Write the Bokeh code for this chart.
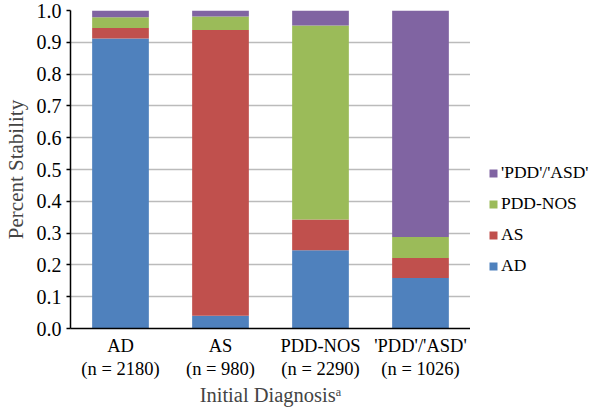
from bokeh.plotting import figure
from bokeh.models import (Legend, LegendItem, FixedTicker, ColumnDataSource,
                          NumeralTickFormatter, CategoricalAxis, FactorRange)
from bokeh.layouts import row
from bokeh.embed import file_html
from bokeh.resources import INLINE

categories = ["AD", "AS", "PDD-NOS", "'PDD'/'ASD'"]
n_counts = [2180, 980, 2290, 1026]
series_names = ["AD", "AS", "PDD-NOS", "'PDD'/'ASD'"]
ad_share = [0.912, 0.040, 0.246, 0.159]
as_share = [0.033, 0.899, 0.097, 0.063]
pddnos_share = [0.034, 0.042, 0.610, 0.066]
pddasd_share = [0.021, 0.019, 0.047, 0.712]
colors = ["#4F81BD", "#C0504D", "#9BBB59", "#8064A2"]
y_ticks = [0.0, 0.1, 0.2, 0.3, 0.4, 0.5, 0.6, 0.7, 0.8, 0.9, 1.0]

FONT = "Liberation Serif"

source = ColumnDataSource(dict(
    cat=categories,
    s0=ad_share, s1=as_share, s2=pddnos_share, s3=pddasd_share,
))

p = figure(x_range=FactorRange(factors=categories), y_range=(0, 1.0),
           width=470, height=408,
           output_backend="svg", toolbar_location=None,
           min_border_left=70, min_border_right=0, min_border_top=10,
           min_border_bottom=75, outline_line_color=None)

renderers = p.vbar_stack(["s0", "s1", "s2", "s3"], x="cat", width=0.567,
                         color=colors, source=source, line_color=None)

# grid
p.xgrid.grid_line_color = None
p.ygrid.ticker = FixedTicker(ticks=y_ticks)
p.ygrid.grid_line_color = "#BBBBBB"
p.ygrid.grid_line_width = 1.5

# y axis
p.yaxis.ticker = FixedTicker(ticks=y_ticks)
p.yaxis.formatter = NumeralTickFormatter(format="0.0")
p.yaxis.axis_label = "Percent Stability"
p.yaxis.axis_label_text_font = FONT
p.yaxis.axis_label_text_font_size = "21px"
p.yaxis.axis_label_text_font_style = "normal"
p.yaxis.axis_label_standoff = 6
p.yaxis.major_label_text_font = FONT
p.yaxis.major_label_text_font_size = "20px"
p.yaxis.major_label_text_color = "black"
p.yaxis.major_tick_out = 4
p.yaxis.major_tick_in = 0
p.yaxis.minor_tick_out = 0
p.yaxis.minor_tick_in = 0
p.yaxis.major_label_standoff = 5
p.yaxis.axis_line_color = "black"
p.yaxis.axis_line_width = 1.5
p.yaxis.major_tick_line_color = "black"
p.yaxis.major_tick_line_width = 1.5

# x axis: first line (category)
p.xaxis.major_label_text_font = FONT
p.xaxis.major_label_text_font_size = "18.5px"
p.xaxis.major_label_text_color = "black"
p.xaxis.major_tick_out = 0
p.xaxis.major_tick_in = 0
p.xaxis.major_label_standoff = 7
p.xaxis.axis_line_color = "black"
p.xaxis.axis_line_width = 1.5

# x axis: second line (n counts) + title, on a parallel factor range
n_labels = [f"(n = {n})" for n in n_counts]
p.extra_x_ranges["n"] = FactorRange(factors=n_labels)
ax2 = CategoricalAxis(
    x_range_name="n",
    axis_line_color=None, major_tick_out=0, major_tick_in=0,
    major_label_standoff=0,
    major_label_text_font=FONT, major_label_text_font_size="18.5px",
    major_label_text_color="black",
    axis_label="Initial Diagnosis\u1d43", axis_label_text_font=FONT,
    axis_label_text_font_size="20.5px", axis_label_text_font_style="normal",
    axis_label_standoff=2,
)
p.add_layout(ax2, "below")

# legend in a side figure
lg = figure(width=122, height=408, output_backend="svg", toolbar_location=None,
            x_range=(0, 1), y_range=(0, 1), x_axis_type=None, y_axis_type=None,
            min_border_left=0, min_border_right=0, min_border_top=0,
            min_border_bottom=0, outline_line_color=None)
lg.grid.visible = False
dummy = [lg.vbar(x=[5], top=[1], width=0.5, color=colors[i], line_color=None)
         for i in range(4)]
items = [LegendItem(label=series_names[i], renderers=[dummy[i]]) for i in range(3, -1, -1)]
legend = Legend(items=items, location=(18, 52), padding=0, margin=0,
                border_line_color=None,
                background_fill_alpha=0, glyph_width=10, glyph_height=10,
                label_height=20, spacing=10, label_standoff=3,
                label_text_font=FONT, label_text_font_size="17.5px",
                label_text_color="black")
lg.add_layout(legend, "center")

layout = row(p, lg)
open("out.html", "w").write(file_html(layout, INLINE))
